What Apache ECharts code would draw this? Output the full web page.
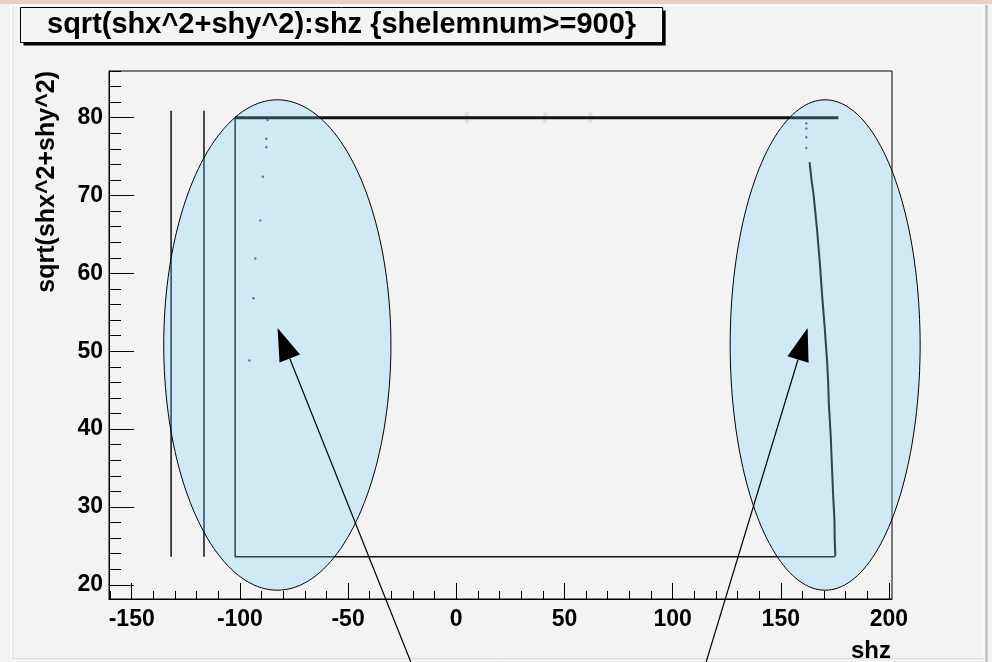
<!DOCTYPE html>
<html>
<head>
<meta charset="utf-8">
<script src="https://cdn.jsdelivr.net/npm/echarts@6/dist/echarts.min.js"></script>
<style>
html, body { margin: 0; padding: 0; background: #f3f3f3; }
#chart { width: 992px; height: 662px; }
</style>
</head>
<body>
<div id="chart"></div>
<script>
// axis ranges and tick labels (shz horizontal, sqrt(shx^2+shy^2) vertical)
const zMin = -160.5, zMax = 201.4
const rMin = 18.17, rMax = 86.0
const zTicks = [-150, -100, -50, 0, 50, 100, 150, 200]
const rTicks = [20, 30, 40, 50, 60, 70, 80]
const zMinor = []
for (let v = -160; v <= 200; v += 10) zMinor.push(v)
const rMinor = []
for (let v = 20; v <= 86; v += 2) rMinor.push(v)

// two isolated vertical traces on the left
const traceZ = [-131.8, -116.6]
const traceR = [23.6, 80.9]
// bottom row and left edge of the band
const boxZ = [175.2, -102.2, -102.2]
const boxR = [23.6, 23.6, 80]
// top row at r = 80
const topZ = [-102.2, 176.6]
const topR = [80, 80]
// curved right edge (slightly stepped)
const curveZ = [175.2, 174.9, 174.8, 174.2, 173.7, 173.1, 172.2, 171.9, 171.4, 170.3, 169.1, 168.0, 166.7, 165.2, 164.2, 163.3]
const curveR = [23.7, 26.0, 28.4, 31.5, 34.8, 39.0, 43.3, 46.0, 48.7, 53.0, 57.2, 61.5, 65.8, 70.0, 72.0, 74.3]
// stray points
const leftDotZ = [-87.2, -87.8, -87.8, -89.4, -90.6, -92.9, -93.7, -95.6]
const leftDotR = [79.7, 77.3, 76.2, 72.4, 66.8, 61.9, 56.8, 48.8]
const rightDotZ = [161.8, 161.8, 161.8, 161.8]
const rightDotR = [79.3, 78.6, 77.5, 76.1]
const faintZ = [4.9, 41.1, 62.0]
const faintR = [80, 80, 80]

// annotations (data units): ellipses and arrows
const ringCenter = [[-82.7, 50.8], [170.5, 50.8]]
const ringRadius = [[52.5, 31.5], [43.9, 31.5]]
const arrowTail = [[-21.0, 10.08], [115.5, 10.08]]
const arrowTip = [[-82.6, 53.0], [162.4, 53.0]]

const titleText = 'sqrt(shx^2+shy^2):shz {shelemnum>=900}'
const FONT = '"Liberation Sans", Arial, Helvetica, sans-serif'

const pairs = (xs, ys) => xs.map((x, i) => [x, ys[i]])

function lineSeries(name, data, width) {
    return {
        name: name, type: 'line', data: data, symbol: 'none', z: 3,
        lineStyle: { color: '#111', width: width }, animation: false
    }
}

const series = [
    lineSeries('trace1', [[traceZ[0], traceR[0]], [traceZ[0], traceR[1]]], 1.5),
    lineSeries('trace2', [[traceZ[1], traceR[0]], [traceZ[1], traceR[1]]], 1.5),
    lineSeries('box', pairs(boxZ, boxR), 1.5),
    lineSeries('top', pairs(topZ, topR), 3),
    lineSeries('curve', pairs(curveZ, curveR), 2),
    {
        name: 'dots', type: 'scatter', data: pairs(leftDotZ, leftDotR).concat(pairs(rightDotZ, rightDotR)),
        symbolSize: 2.5, itemStyle: { color: '#2d3f4a' }, z: 3, animation: false
    },
    {
        name: 'faint', type: 'scatter', data: pairs(faintZ, faintR), symbol: 'rect',
        symbolSize: [4, 11], itemStyle: { color: 'rgba(190,190,190,0.45)' }, z: 2, animation: false
    }
]

const tickLabel = { fontSize: 23, fontWeight: 'bold', fontFamily: FONT, color: '#000' }

const option = {
    backgroundColor: '#f3f3f3',
    animation: false,
    grid: {
        left: 109, right: 100, top: 71, bottom: 63, show: true,
        borderColor: '#000', borderWidth: 1, backgroundColor: 'transparent',
        outerBoundsMode: 'none'
    },
    xAxis: [
        {
            type: 'value', min: zMin, max: zMax, position: 'bottom',
            axisLine: { show: true, onZero: false, lineStyle: { color: '#000', width: 1 } },
            axisTick: { show: true, inside: true, length: 16, customValues: zTicks, lineStyle: { color: '#000' } },
            axisLabel: Object.assign({ customValues: zTicks, margin: 9 }, tickLabel),
            splitLine: { show: false }
        },
        {
            type: 'value', min: zMin, max: zMax, position: 'bottom',
            axisLine: { show: false, onZero: false },
            axisTick: { show: true, inside: true, length: 8, customValues: zMinor, lineStyle: { color: '#000' } },
            axisLabel: { show: false },
            splitLine: { show: false }
        }
    ],
    yAxis: [
        {
            type: 'value', min: rMin, max: rMax, position: 'left',
            axisLine: { show: true, onZero: false, lineStyle: { color: '#000', width: 1 } },
            axisTick: { show: true, inside: true, length: 25, customValues: rTicks, lineStyle: { color: '#000' } },
            axisLabel: Object.assign({ customValues: rTicks, margin: 6 }, tickLabel),
            splitLine: { show: false }
        },
        {
            type: 'value', min: rMin, max: rMax, position: 'left',
            axisLine: { show: false, onZero: false },
            axisTick: { show: true, inside: true, length: 12, customValues: rMinor, lineStyle: { color: '#000' } },
            axisLabel: { show: false },
            splitLine: { show: false }
        }
    ],
    series: series
}

const chart = echarts.init(document.getElementById('chart'))
chart.setOption(option)

// title box width from the text
const ctx = document.createElement('canvas').getContext('2d')
ctx.font = 'bold 29px "Liberation Sans"'
const titleW = ctx.measureText(titleText).width
const boxW = titleW + 53

const toPx = p => chart.convertToPixel({ xAxisIndex: 0, yAxisIndex: 0 }, p)

const graphics = [
    // canvas frame
    { type: 'rect', shape: { x: 0, y: 0, width: 992, height: 4 }, style: { fill: '#e8d0c4' }, silent: true },
    { type: 'line', shape: { x1: 11, y1: 5.5, x2: 983, y2: 5.5 }, style: { stroke: '#ffffff', lineWidth: 1.5 }, silent: true },
    { type: 'line', shape: { x1: 11.5, y1: 5, x2: 11.5, y2: 658 }, style: { stroke: '#ffffff', lineWidth: 1.5 }, silent: true },
    { type: 'line', shape: { x1: 13, y1: 6, x2: 13, y2: 658 }, style: { stroke: '#dedede', lineWidth: 1 }, silent: true },
    { type: 'line', shape: { x1: 982.5, y1: 5, x2: 982.5, y2: 658 }, style: { stroke: '#ffffff', lineWidth: 1 }, silent: true },
    { type: 'line', shape: { x1: 986.5, y1: 5, x2: 986.5, y2: 662 }, style: { stroke: '#b5b5b5', lineWidth: 2 }, silent: true },
    { type: 'line', shape: { x1: 11, y1: 658.5, x2: 986, y2: 658.5 }, style: { stroke: '#dadada', lineWidth: 1 }, silent: true },
    // title box with shadow
    { type: 'rect', shape: { x: 23.5, y: 10.5, width: boxW, height: 35 }, style: { fill: '#000' }, z: 50, silent: true },
    { type: 'rect', shape: { x: 20.5, y: 7.5, width: boxW, height: 35 }, style: { fill: '#f4f4f4', stroke: '#000', lineWidth: 1 }, z: 51, silent: true },
    { type: 'text', x: 47, y: 25, z: 52, silent: true,
      style: { text: titleText, font: 'bold 29px ' + FONT, fill: '#000', verticalAlign: 'middle', align: 'left' } },
    // axis titles
    { type: 'text', x: 47, y: 71, rotation: Math.PI / 2, z: 52, silent: true,
      style: { text: 'sqrt(shx^2+shy^2)', font: 'bold 25px ' + FONT, fill: '#000', verticalAlign: 'middle', align: 'right' } },
    { type: 'text', x: 891, y: 651, z: 52, silent: true,
      style: { text: 'shz', font: 'bold 24px ' + FONT, fill: '#000', verticalAlign: 'middle', align: 'right' } }
]

// ellipses
ringCenter.forEach((c, i) => {
    const ctr = toPx(c)
    const edge = toPx([c[0] + ringRadius[i][0], c[1] + ringRadius[i][1]])
    const rx = Math.abs(edge[0] - ctr[0]), ry = Math.abs(edge[1] - ctr[1])
    const pts = []
    for (let k = 0; k < 180; k++) {
        const a = k / 180 * Math.PI * 2
        pts.push([ctr[0] + rx * Math.cos(a), ctr[1] + ry * Math.sin(a)])
    }
    graphics.push({
        type: 'polygon', shape: { points: pts }, z: 60, silent: true,
        style: { fill: 'rgba(110,210,250,0.27)', stroke: '#000', lineWidth: 1 }
    })
})

// arrows
arrowTail.forEach((t, i) => {
    const a = toPx(t), b = toPx(arrowTip[i])
    const dx = b[0] - a[0], dy = b[1] - a[1]
    const len = Math.sqrt(dx * dx + dy * dy)
    const ux = dx / len, uy = dy / len
    const headL = 33, headW = 11
    const bx = b[0] - ux * headL, by = b[1] - uy * headL
    graphics.push({
        type: 'line', shape: { x1: a[0], y1: a[1], x2: bx, y2: by }, z: 70, silent: true,
        style: { stroke: '#000', lineWidth: 1.2 }
    })
    graphics.push({
        type: 'polygon', z: 71, silent: true,
        shape: { points: [[b[0], b[1]], [bx - uy * headW, by + ux * headW], [bx + uy * headW, by - ux * headW]] },
        style: { fill: '#000' }
    })
})

chart.setOption({ graphic: graphics })
</script>
</body>
</html>
